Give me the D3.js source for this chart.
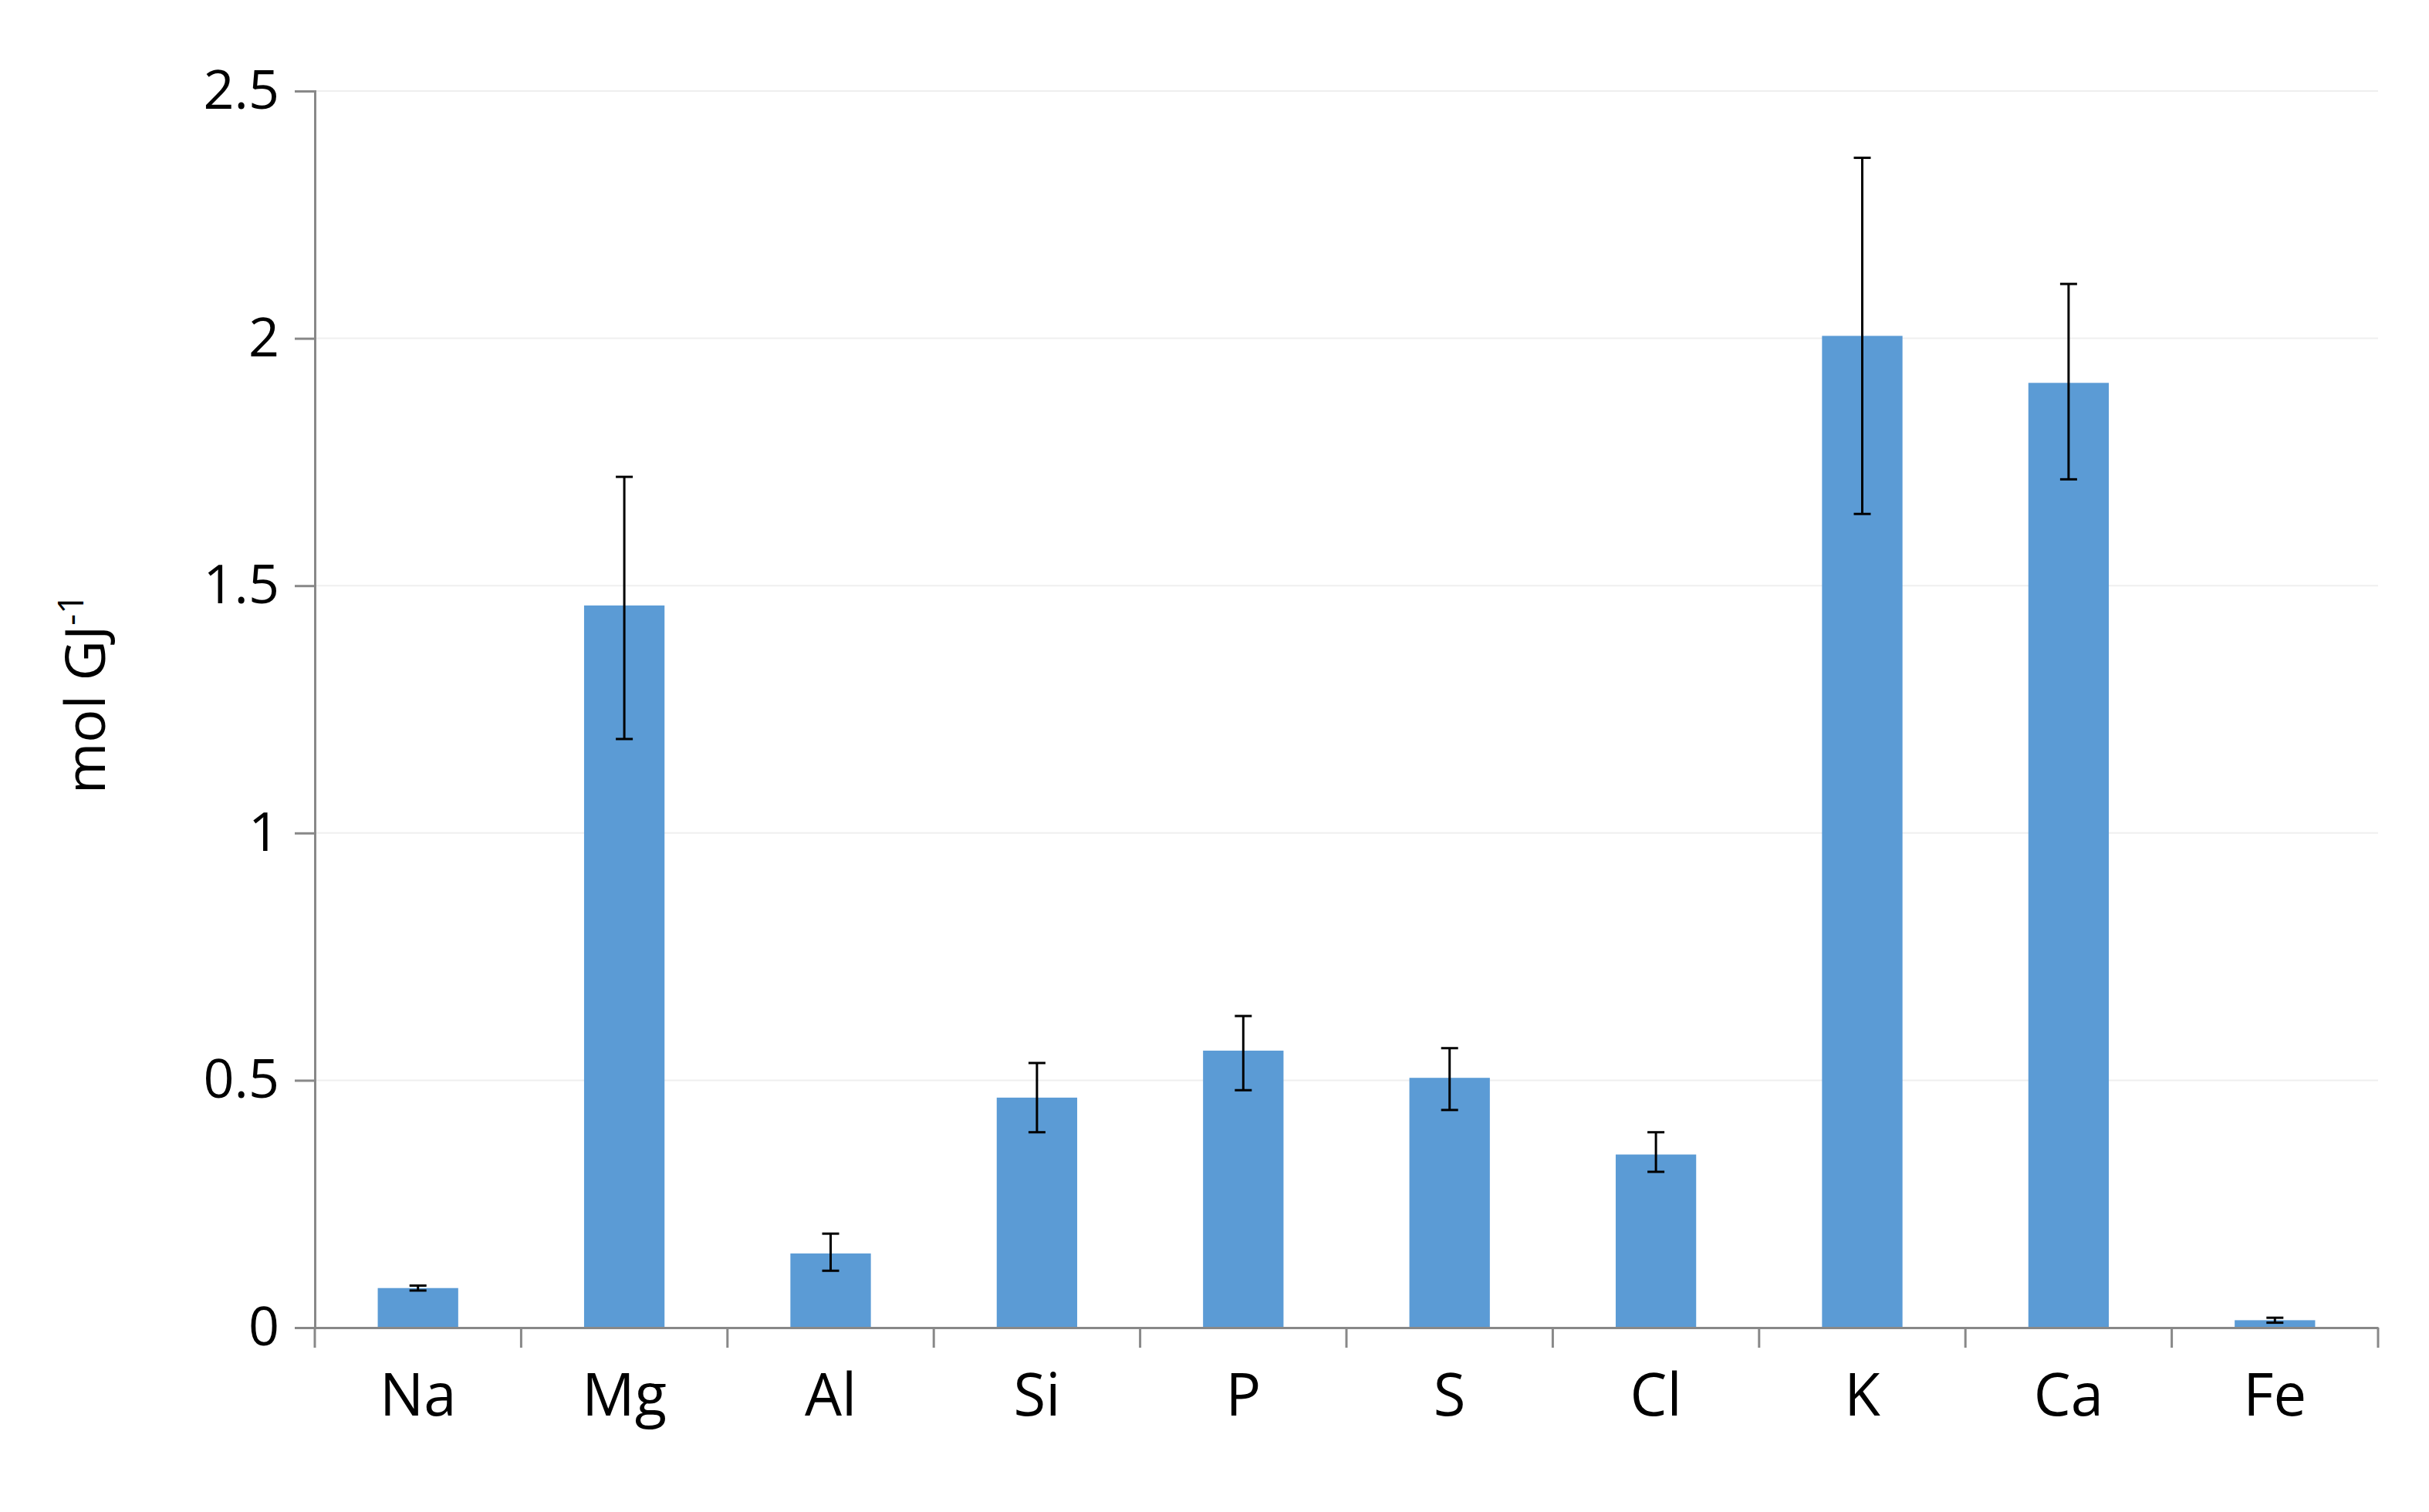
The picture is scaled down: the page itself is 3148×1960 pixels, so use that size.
<!DOCTYPE html>
<html><head><meta charset="utf-8">
<script src="https://cdn.jsdelivr.net/npm/d3@7"></script>
<style>body{margin:0;background:#fff}svg{display:block}</style>
</head><body>
<script>
var elements = ["Na", "Mg", "Al", "Si", "P", "S", "Cl", "K", "Ca", "Fe"];
var values = [0.08, 1.46, 0.15, 0.465, 0.56, 0.505, 0.35, 2.005, 1.91, 0.015];
var errLow = [0.075, 1.19, 0.115, 0.395, 0.48, 0.44, 0.315, 1.645, 1.715, 0.01];
var errHigh = [0.085, 1.72, 0.19, 0.535, 0.63, 0.565, 0.395, 2.365, 2.11, 0.02];
var yTicks = [0, 0.5, 1, 1.5, 2, 2.5];

var W = 3148, H = 1960;
var m = {left: 408, right: 66, top: 118, bottom: 239};
var svg = d3.select("body").append("svg").attr("width", W).attr("height", H);
var font = "'Open Sans', sans-serif";

var x = d3.scaleBand().domain(elements).range([m.left, W - m.right]).paddingInner(0.61).paddingOuter(0.305);
var y = d3.scaleLinear().domain([0, 2.5]).range([H - m.bottom, m.top]);

// gridlines
svg.append("g").selectAll("line").data(yTicks.slice(1)).enter().append("line")
    .attr("x1", m.left).attr("x2", W - m.right)
    .attr("y1", function(d) { return y(d); }).attr("y2", function(d) { return y(d); })
    .style("stroke", "#efefef").style("stroke-width", 2);

// bars
svg.append("g").selectAll("rect").data(elements).enter().append("rect")
    .attr("x", function(d) { return x(d); })
    .attr("width", x.bandwidth())
    .attr("y", function(d, i) { return y(values[i]); })
    .attr("height", function(d, i) { return y(0) - y(values[i]); })
    .style("fill", "#5b9bd5");

// error bars
var eb = svg.append("g").selectAll("g").data(elements).enter().append("g")
    .attr("transform", function(d) { return "translate(" + (x(d) + x.bandwidth() / 2) + ",0)"; });
eb.append("line").attr("y1", function(d, i) { return y(errLow[i]); })
    .attr("y2", function(d, i) { return y(errHigh[i]); });
eb.append("line").attr("x1", -11).attr("x2", 11)
    .attr("y1", function(d, i) { return y(errLow[i]); }).attr("y2", function(d, i) { return y(errLow[i]); });
eb.append("line").attr("x1", -11).attr("x2", 11)
    .attr("y1", function(d, i) { return y(errHigh[i]); }).attr("y2", function(d, i) { return y(errHigh[i]); });
eb.selectAll("line").style("stroke", "#000").style("stroke-width", 3);

// y axis
var ya = svg.append("g").attr("transform", "translate(" + m.left + ",0)")
    .call(d3.axisLeft(y).tickValues(yTicks).tickSize(26).tickPadding(20).tickFormat(d3.format("")));
ya.selectAll("text").style("font-family", font).style("font-size", "70px").style("fill", "#000");

// x axis
var xa = svg.append("g").attr("transform", "translate(0," + y(0) + ")")
    .call(d3.axisBottom(x).tickSize(0).tickPadding(60));
xa.selectAll("text").style("font-family", font).style("font-size", "76px").style("fill", "#000");
var step = x.step();
var bounds = d3.range(elements.length + 1).map(function(i) { return m.left + i * step; });
xa.append("g").selectAll("line").data(bounds).enter().append("line")
    .attr("x1", function(d) { return d; }).attr("x2", function(d) { return d; })
    .attr("y1", 0).attr("y2", 26).style("stroke", "#888").style("stroke-width", 3);

svg.selectAll(".domain").style("stroke", "#888").style("stroke-width", 3);
svg.selectAll(".tick line").style("stroke", "#888").style("stroke-width", 3);

// y label
var lab = svg.append("text")
    .attr("transform", "translate(136," + ((m.top + H - m.bottom) / 2 - 20) + ") rotate(-90)")
    .attr("text-anchor", "middle")
    .style("font-family", font).style("font-size", "72px");
lab.append("tspan").text("mol GJ");
lab.append("tspan").text("-1").attr("dy", -28).style("font-size", "46px");
</script>
</body></html>
